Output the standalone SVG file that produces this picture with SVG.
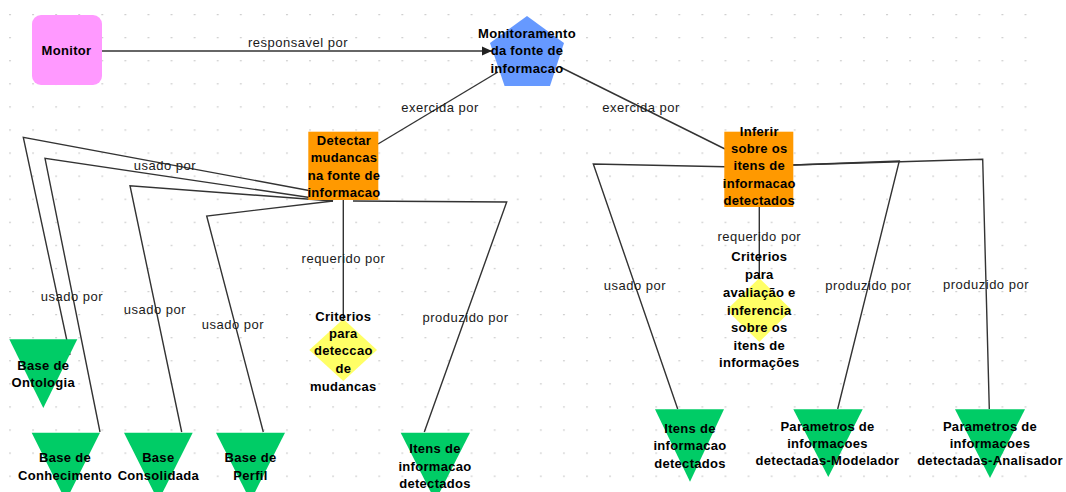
<svg xmlns="http://www.w3.org/2000/svg" width="1066" height="492" viewBox="0 0 1066 492">
  <defs>
    <pattern id="grid" x="9" y="14" width="23.08" height="23.08" patternUnits="userSpaceOnUse">
      <rect x="0" y="0" width="2" height="1.2" fill="#cfcfcf"/>
    </pattern>
    <marker id="arrow" markerWidth="10" markerHeight="10" refX="10" refY="5" orient="auto" markerUnits="userSpaceOnUse">
      <path d="M0,0.5 L10,5 L0,9.5 Z" fill="#222"/>
    </marker>
    <style>
      .edge { fill: none; stroke: #333; stroke-width: 1.4; }
      .lbl { font-family: "Liberation Sans", Arial, sans-serif; font-size: 13px; letter-spacing: 0.5px; fill: #1a1a1a; text-anchor: middle; }
      .nt { font-family: "Liberation Sans", Arial, sans-serif; font-size: 13px; font-weight: bold; letter-spacing: 0.3px; fill: #000; text-anchor: middle; }
      .pink { fill: #ff99ff; }
      .blue { fill: #6699ff; }
      .orange { fill: #ff9900; }
      .yellow { fill: #ffff66; }
      .green { fill: #00cc66; }
    </style>
  </defs>

  <rect width="1066" height="492" fill="#ffffff"/>
  <rect x="0" y="10" width="1036" height="482" fill="url(#grid)"/>

  <!-- connectors -->
  <g id="connectors">
    <line class="edge" x1="102" y1="51" x2="492" y2="51" marker-end="url(#arrow)"/>
    <line class="edge" x1="498" y1="72" x2="378" y2="144"/>
    <line class="edge" x1="560" y1="67" x2="725" y2="149"/>
    <polyline class="edge" points="333,195 23.3,137.3 70,355"/>
    <polyline class="edge" points="333,201 45,158.3 100,432"/>
    <polyline class="edge" points="333,201 130,185.7 181.7,432"/>
    <polyline class="edge" points="333,201 206.7,216 263.3,432"/>
    <line class="edge" x1="343.3" y1="200" x2="343.3" y2="320"/>
    <polyline class="edge" points="353,201 506.7,202 424.3,432"/>
    <polyline class="edge" points="725,166.7 593.3,164 677.7,409"/>
    <polyline class="edge" points="793,165 899.3,161 837.7,409"/>
    <polyline class="edge" points="793,165 982.7,159.3 989.3,409"/>
    <line class="edge" x1="759.3" y1="207" x2="759.3" y2="280"/>

    <text class="lbl" x="298" y="46.7">responsavel por</text>
    <text class="lbl" x="440" y="111.7">exercida por</text>
    <text class="lbl" x="641" y="111.7">exercida por</text>
    <text class="lbl" x="165" y="169.7">usado por</text>
    <text class="lbl" x="72" y="300.7">usado por</text>
    <text class="lbl" x="155" y="313.7">usado por</text>
    <text class="lbl" x="233" y="328.7">usado por</text>
    <text class="lbl" x="343.5" y="262.7">requerido por</text>
    <text class="lbl" x="465.5" y="322">produzido por</text>
    <text class="lbl" x="635" y="290.4">usado por</text>
    <text class="lbl" x="759.3" y="241.4">requerido por</text>
    <text class="lbl" x="868.3" y="289.7">produzido por</text>
    <text class="lbl" x="986" y="288.7">produzido por</text>
  </g>

  <!-- nodes -->
  <g id="monitor">
    <rect class="pink" x="32" y="15" width="70" height="70" rx="9" ry="9"/>
    <text class="nt" x="66.5" y="54.7">Monitor</text>
  </g>

  <g id="monitoramento">
    <polygon class="blue" points="527,16 564,42.9 550,86 504.6,86 490,42.9"/>
    <text class="nt" x="527" y="38">Monitoramento</text>
    <text class="nt" x="527" y="55.4">da fonte de</text>
    <text class="nt" x="527" y="73">informacao</text>
  </g>

  <g id="detectar">
    <rect class="orange" x="308.3" y="131.7" width="70" height="68.3"/>
    <text class="nt" x="344" y="145.4">Detectar</text>
    <text class="nt" x="344" y="162.4">mudancas</text>
    <text class="nt" x="344" y="179.7">na fonte de</text>
    <text class="nt" x="344" y="197">informacao</text>
  </g>

  <g id="inferir">
    <rect class="orange" x="724.3" y="131.7" width="69" height="75.3"/>
    <text class="nt" x="759.3" y="136.4">Inferir</text>
    <text class="nt" x="759.3" y="153">sobre os</text>
    <text class="nt" x="759.3" y="170.4">itens de</text>
    <text class="nt" x="759.3" y="188">informacao</text>
    <text class="nt" x="759.3" y="204.7">detectados</text>
  </g>

  <g id="criterios-deteccao">
    <polygon class="yellow" points="343.3,319 377,350 343.3,381 309.3,350"/>
    <text class="nt" x="343.3" y="320.7">Criterios</text>
    <text class="nt" x="343.3" y="338">para</text>
    <text class="nt" x="343.3" y="355.4">deteccao</text>
    <text class="nt" x="343.3" y="373">de</text>
    <text class="nt" x="343.3" y="390.7">mudancas</text>
  </g>

  <g id="criterios-avaliacao">
    <polygon class="yellow" points="759.3,278 791.7,310 759.3,342 726.7,310"/>
    <text class="nt" x="759.3" y="261.4">Criterios</text>
    <text class="nt" x="759.3" y="279">para</text>
    <text class="nt" x="759.3" y="297">avaliação e</text>
    <text class="nt" x="759.3" y="314.7">inferencia</text>
    <text class="nt" x="759.3" y="332">sobre os</text>
    <text class="nt" x="759.3" y="350.4">itens de</text>
    <text class="nt" x="759.3" y="367.4">informações</text>
  </g>

  <g id="base-ontologia">
    <polygon class="green" points="9.3,339.3 77.3,339.3 43.3,408"/>
    <text class="nt" x="43.3" y="369.7">Base de</text>
    <text class="nt" x="43.3" y="387.4">Ontologia</text>
  </g>

  <g id="base-conhecimento">
    <polygon class="green" points="31.7,432.7 100,432.7 65.8,501"/>
    <text class="nt" x="65" y="462">Base de</text>
    <text class="nt" x="65" y="479.7">Conhecimento</text>
  </g>

  <g id="base-consolidada">
    <polygon class="green" points="124,432.7 192.7,432.7 158.3,501"/>
    <text class="nt" x="158.3" y="462">Base</text>
    <text class="nt" x="158.3" y="479.7">Consolidada</text>
  </g>

  <g id="base-perfil">
    <polygon class="green" points="216,432.7 285,432.7 250.5,501"/>
    <text class="nt" x="250.5" y="462">Base de</text>
    <text class="nt" x="250.5" y="479.7">Perfil</text>
  </g>

  <g id="itens-detectados-1">
    <polygon class="green" points="400.7,432.7 470,432.7 435.3,501"/>
    <text class="nt" x="435" y="453">Itens de</text>
    <text class="nt" x="435" y="470.7">informacao</text>
    <text class="nt" x="435" y="488">detectados</text>
  </g>

  <g id="itens-detectados-2">
    <polygon class="green" points="655,409.3 724,409.3 690,481.7"/>
    <text class="nt" x="690" y="433">Itens de</text>
    <text class="nt" x="690" y="450.4">informacao</text>
    <text class="nt" x="690" y="468">detectados</text>
  </g>

  <g id="parametros-modelador">
    <polygon class="green" points="793.3,409.3 862.7,409.3 828.3,477"/>
    <text class="nt" x="827.5" y="430.7">Parametros de</text>
    <text class="nt" x="827.5" y="448">informacoes</text>
    <text class="nt" x="827.5" y="465.4">detectadas-Modelador</text>
  </g>

  <g id="parametros-analisador">
    <polygon class="green" points="955,409.3 1025,409.3 990,478"/>
    <text class="nt" x="990" y="430.7">Parametros de</text>
    <text class="nt" x="990" y="448">informacoes</text>
    <text class="nt" x="990" y="465.4">detectadas-Analisador</text>
  </g>
</svg>
